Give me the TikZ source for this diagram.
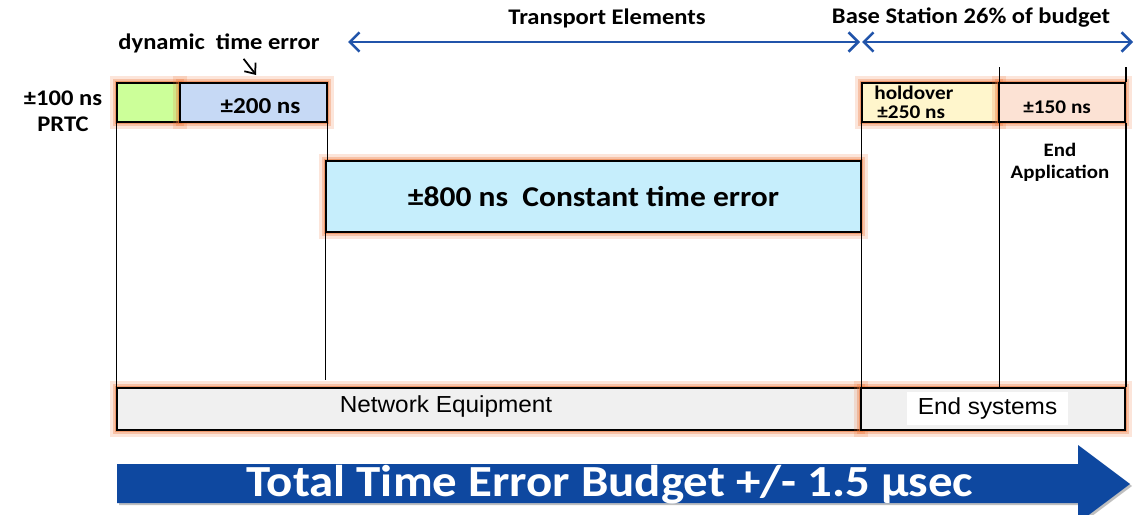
\documentclass[tikz,border=0pt]{standalone}
\usepackage{fontspec}
\setmainfont{Carlito}[FakeStretch=1.1]
\newfontfamily\arialfont{Liberation Sans}[FakeStretch=1.05]
\usepackage{tikz}
\definecolor{budgetBlue}{RGB}{14, 72, 160}
\definecolor{spanBlue}{RGB}{33, 84, 170}
\definecolor{glowOrange}{RGB}{236, 112, 48}
\definecolor{prtcGreen}{RGB}{204, 255, 153}
\definecolor{dynBlue}{RGB}{198, 217, 245}
\definecolor{constCyan}{RGB}{198, 238, 252}
\definecolor{holdYellow}{RGB}{255, 246, 204}
\definecolor{endSalmon}{RGB}{252, 226, 212}
\definecolor{equipGray}{RGB}{240, 240, 240}
\usetikzlibrary{arrows.meta, positioning, calc}

\tikzset{
    glow/.style={
        preaction={draw=glowOrange, line width=8pt, opacity=0.18},
        preaction={draw=glowOrange, line width=5pt, opacity=0.3},
        preaction={draw=glowOrange, line width=2.5pt, opacity=0.5}
    },
    budgetbox/.style={
        rectangle,
        draw=black,
        line width=1.1pt,
        inner sep=0pt,
        align=center,
        glow
    },
    tick/.style={line width=0.6pt},
    span/.style={
        draw=spanBlue,
        line width=1.5pt,
        {Straight Barb[length=5.5pt, width=11pt]}-{Straight Barb[length=5.5pt, width=11pt]}
    },
    caption/.style={font=\bfseries\fontsize{12.7}{14}\selectfont, align=center}
}

\begin{document}
\begin{tikzpicture}[x=0.02cm, y=-0.02cm]
    \useasboundingbox (0,0) rectangle (1138,514);
    \clip (0,0) rectangle (1138,514);

    % spans on top
    \node[caption] (transport) at (607,18) {Transport Elements};
    \node[caption] (basestation) at (971,18) {Base Station 26\% of budget};
    \coordinate (te-l) at (348,42);
    \coordinate (te-r) at (860,42);
    \coordinate (bs-l) at (862,42);
    \coordinate (bs-r) at (1133,42);
    \draw[span] (te-l) -- (te-r);
    \draw[span] (bs-l) -- (bs-r);

    % PRTC and dynamic error
    \node[caption] (prtclabel) at (63,111) {±100 ns\\[1pt]PRTC};
    \node[budgetbox, fill=prtcGreen, minimum width=1.26cm, minimum height=0.78cm] (prtc) at (148.5,102.5) {};
    \node[budgetbox, fill=dynBlue, minimum width=2.94cm, minimum height=0.78cm,
          label={[xshift=4pt, yshift=-2pt, font=\bfseries\fontsize{13}{15}\selectfont]center:±200 ns}] (dyn) at (253.5,102.5) {};
    \node[caption] (dynlabel) at (219,43) {dynamic\ \ time error};
    \draw[line width=1pt, -{Straight Barb[length=5pt, width=8pt]}]
        ([xshift=14pt]dynlabel.south) -- ([xshift=1.5pt, yshift=4pt]dyn.north);

    % constant error
    \node[budgetbox, fill=constCyan, minimum width=10.7cm, minimum height=1.42cm,
          font=\bfseries\fontsize{16.3}{18}\selectfont] (const) at (593.5,196.5) {±800 ns\ \ Constant time error};

    % base station
    \node[budgetbox, fill=holdYellow, minimum width=2.74cm, minimum height=0.78cm,
          font=\bfseries\fontsize{11}{10.5}\selectfont] (hold) at (930.5,102.5)
          {\hspace{-19pt}\raisebox{-2.5pt}{holdover}\\\hspace{-22pt}\raisebox{-3pt}{±250 ns}};
    \node[budgetbox, fill=endSalmon, minimum width=2.52cm, minimum height=0.78cm,
          label={[xshift=-2.8pt, yshift=-2.5pt, font=\bfseries\fontsize{11}{12}\selectfont]center:±150 ns}] (app) at (1062,102.5) {};
    \node[caption, font=\bfseries\fontsize{10.8}{12.5}\selectfont] (endapp) at (1060,162) {End\\Application};

    % bottom row
    \node[budgetbox, fill=equipGray, minimum width=14.88cm, minimum height=0.84cm] (equip) at (489,409) {};
    \node[font=\arialfont\fontsize{13.2}{15}\selectfont] (equiplabel) at (446,406) {Network Equipment};
    \node[budgetbox, fill=equipGray, minimum width=5.28cm, minimum height=0.84cm] (ends) at (993,409) {};
    \node[fill=white, minimum width=3.22cm, minimum height=0.62cm,
          font=\arialfont\fontsize{13.2}{15}\selectfont] (endlabel) at (987.5,408.5) {End systems};

    % vertical guide lines
    \coordinate (apptop) at (999,67);
    \draw[tick] (prtc.south west) -- (prtc.south west |- equip.north);
    \draw[tick] (dyn.south east) -- (dyn.south east |- const.north);
    \draw[tick] (const.south west) -- ([yshift=4pt]const.south west |- equip.north);
    \draw[tick] (hold.south west) -- (hold.south west |- equip.north);
    \draw[tick] (hold.north east |- apptop) -- (hold.north east);
    \draw[tick] (hold.south east) -- (hold.south east |- equip.north);
    \draw[tick] (app.north east |- apptop) -- (app.north east);
    \draw[tick] (app.south east) -- (app.south east |- equip.north);

    % total budget arrow
    \fill[black, opacity=0.25] (119,466) -- (1080,466) -- (1080,447) -- (1132,486) -- (1080,525)
        -- (1080,505) -- (119,505) -- cycle;
    \fill[budgetBlue] (117,464) -- (1078,464) -- (1078,445) -- (1130,484) -- (1078,523)
        -- (1078,503) -- (117,503) -- cycle;
    \node[text=white, font=\bfseries\fontsize{25.3}{28}\selectfont] (total) at (610,485) {Total Time Error Budget +/- 1.5 µsec};
\end{tikzpicture}
\end{document}
